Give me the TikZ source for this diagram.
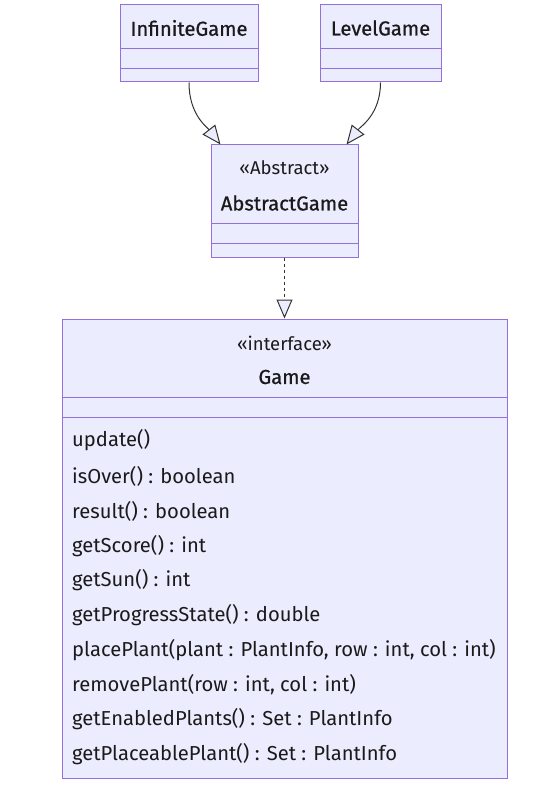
\documentclass[tikz,border=0pt]{standalone}
\usepackage{fontspec}
\setmainfont{Fira Sans}
\newfontfamily\semibfont[FakeBold=0.8]{Fira Sans}
\usetikzlibrary{arrows.meta}
\definecolor{boxfill}{HTML}{ECECFF}
\definecolor{boxline}{HTML}{9370DB}
\definecolor{txt}{HTML}{1A1A1A}
\definecolor{edgec}{HTML}{333333}
\begin{document}
\begin{tikzpicture}[x=1pt,y=-1pt,
  cls/.style={draw=boxline, fill=boxfill, line width=1pt, inner sep=0pt},
  divider/.style={draw=boxline, line width=1pt},
  lbl/.style={text=txt, font=\fontsize{20.2}{24}\selectfont, inner sep=0pt},
  stereo/.style={lbl, font=\fontsize{18.5}{22}\selectfont},
  title/.style={lbl, font=\fontsize{20.2}{24}\selectfont\semibfont},
  meth/.style={lbl, anchor=west},
  edge/.style={draw=edgec, line width=1pt, -{Triangle[length=19pt, width=16pt, fill=boxfill]}},
]
\useasboundingbox (0,0) rectangle (542,786);
% boxes
\node[cls, minimum width=138pt, minimum height=77pt] (inf) at (189,43.5) {};
\node[cls, minimum width=121pt, minimum height=77pt] (lvl) at (380.5,43.5) {};
\node[cls, minimum width=147pt, minimum height=112pt] (abs) at (284.5,201) {};
\node[cls, minimum width=445pt, minimum height=459pt] (game) at (284.5,548.5) {};
% dividers
\foreach \b/\o in {inf/44, inf/64, lvl/44, lvl/64, abs/79, abs/99, game/79, game/99}{
  \draw[divider] ([yshift=-\o pt]\b.north west) -- ([yshift=-\o pt]\b.north east);
}
% titles
\node[title] (infT) at (189,28) {InfiniteGame};
\node[title] (lvlT) at (380.5,28) {LevelGame};
\node[stereo] (absS) at (284.5,168) {«Abstract»};
\node[title] (absT) at (284.5,203) {AbstractGame};
\node[stereo] (gameS) at (284.5,343) {«interface»};
\node[title] (gameT) at (284.5,377) {Game};
% methods
\node[meth] (m1) at (72,440) {update()};
\node[meth] (m2) at (72,476) {isOver() : boolean};
\node[meth] (m3) at (72,511) {result() : boolean};
\node[meth] (m4) at (72,546) {getScore() : int};
\node[meth] (m5) at (72,580) {getSun() : int};
\node[meth] (m6) at (72,615) {getProgressState() : double};
\node[meth] (m7) at (72,650) {placePlant(plant : PlantInfo, row : int, col : int)};
\node[meth] (m8) at (72,685) {removePlant(row : int, col : int)};
\node[meth] (m9) at (72,719) {getEnabledPlants() : Set : PlantInfo};
\node[meth] (m10) at (72,754) {getPlaceablePlant() : Set : PlantInfo};
% connectors
\draw[edge] (inf.south) .. controls +(0,32) and +(-14,-18) .. ([xshift=-64pt]abs.north);
\draw[edge] (lvl.south) .. controls +(0,32) and +(14,-18) .. ([xshift=62pt]abs.north);
\draw[edge, dash pattern=on 3pt off 3pt] (abs.south) -- (game.north);
\end{tikzpicture}
\end{document}
